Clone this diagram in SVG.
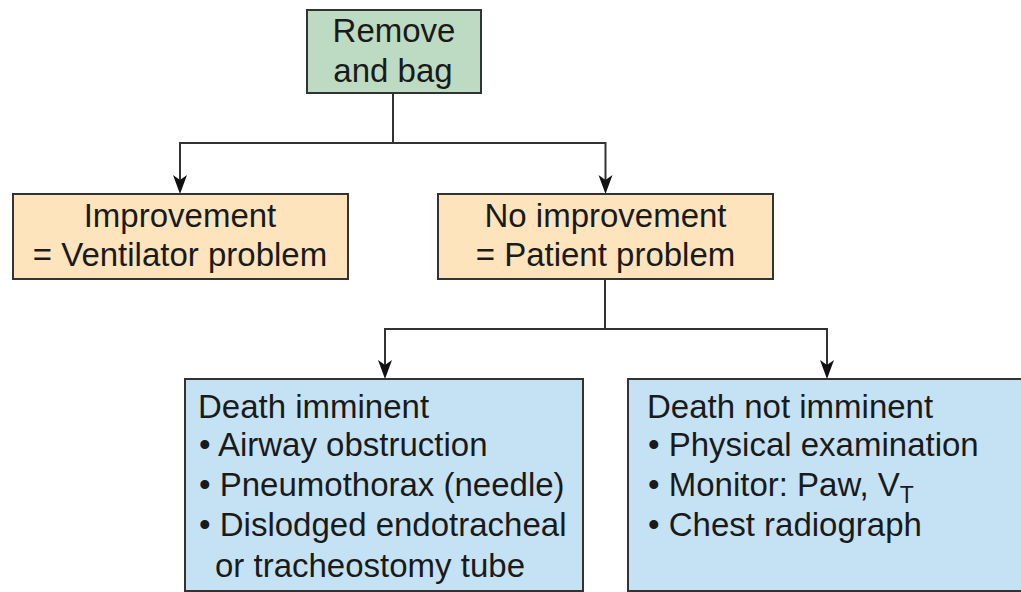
<svg xmlns="http://www.w3.org/2000/svg" width="1021" height="592" viewBox="0 0 1021 592">
<style>
.box{stroke:#333;stroke-width:2}
.green{fill:#bddbc3}
.orange{fill:#fde4bd}
.blue{fill:#c5e2f5}
text{font-family:"Liberation Sans",Arial,sans-serif;font-size:33px;fill:#1a1a1a}
.c{text-anchor:middle}
.conn{fill:none;stroke:#333;stroke-width:2}
.head{fill:#111}
</style>
<defs>
<path id="ah" class="head" d="M-7,-19 L0,-14 L7,-19 L0,0 Z"/>
</defs>
<rect width="1021" height="592" fill="#fff"/>
<g id="connectors">
<path class="conn" d="M393,93 V143 H605.5 V190"/>
<path class="conn" d="M393,143 H180 V190"/>
<path class="conn" d="M605,279 V329 H827 V375"/>
<path class="conn" d="M605,329 H385 V375"/>
<use href="#ah" x="180" y="194"/>
<use href="#ah" x="605.5" y="194"/>
<use href="#ah" x="385" y="379"/>
<use href="#ah" x="827" y="379"/>
</g>
<g id="remove">
<rect class="box green" x="307" y="10" width="174" height="83"/>
<text class="c" x="394" y="42">Remove</text>
<text class="c" x="393" y="82">and bag</text>
</g>
<g id="improvement">
<rect class="box orange" x="13" y="194" width="335" height="85"/>
<text class="c" x="180" y="227">Improvement</text>
<text class="c" x="180" y="266">= Ventilator problem</text>
</g>
<g id="noimprovement">
<rect class="box orange" x="438" y="194" width="335" height="85"/>
<text class="c" x="605.5" y="227">No improvement</text>
<text class="c" x="605.5" y="266">= Patient problem</text>
</g>
<g id="imminent">
<rect class="box blue" x="185" y="379" width="398" height="212"/>
<text x="198" y="418">Death imminent</text>
<text x="199" y="456">• Airway obstruction</text>
<text x="199" y="496">• Pneumothorax (needle)</text>
<text x="199" y="536">• Dislodged endotracheal</text>
<text x="215" y="577">or tracheostomy tube</text>
</g>
<g id="notimminent">
<rect class="box blue" x="628" y="379" width="400" height="212"/>
<text x="647" y="418">Death not imminent</text>
<text x="648" y="456">• Physical examination</text>
<text x="648" y="496">• Monitor: Paw, V<tspan font-size="23" dy="7">T</tspan></text>
<text x="648" y="536">• Chest radiograph</text>
</g>
</svg>
